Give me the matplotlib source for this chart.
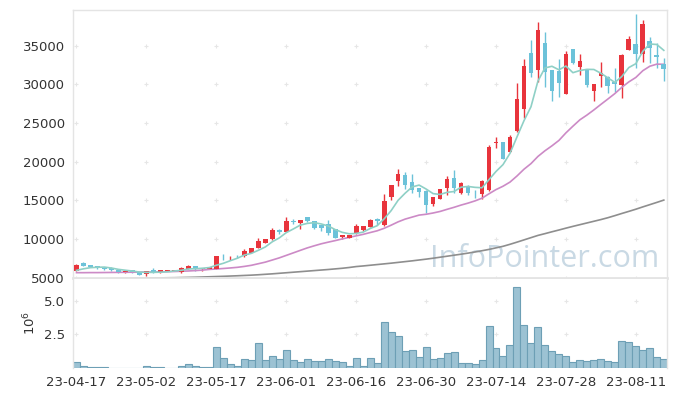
import matplotlib
matplotlib.use('Agg')
import matplotlib.pyplot as plt
import numpy as np
from matplotlib.ticker import FixedLocator, FuncFormatter

# ---- data ----
opens = [5900, 6940, 6640, 6510, 6290, 6290, 6030, 5780, 5990, 5780,
         5475, 6030, 5690, 5900, 5920, 5780, 6120, 6500, 6080, 6120,
         6160, 7850, 7760, 7850, 7760, 8230, 8880, 9530, 9960, 11160,
         10900, 12330, 12110, 12800, 12330, 11810, 11940, 11250, 10260, 10170,
         10820, 11160, 11600, 12540, 11810, 15470, 17540, 18270, 17330, 16600,
         16210, 14520, 15210, 16630, 17890, 15990, 16900, 16000, 15860, 16340,
         22400, 22540, 21300, 24000, 26800, 34050, 31850, 35300, 31850, 31720,
         28800, 34570, 32280, 31850, 29180, 31120, 30990, 30340, 29910, 34520,
         35210, 34000, 35600, 33790, 32580]
highs = [6750, 6980, 6680, 6550, 6330, 6330, 6060, 6030, 6030, 5800,
         5900, 6250, 5990, 5950, 5960, 6420, 6700, 6550, 6250, 6420,
         7850, 8060, 7810, 7950, 8660, 8900, 10090, 10000, 11380, 11340,
         12800, 12600, 12500, 12850, 12380, 11850, 12450, 11300, 10560, 10520,
         11940, 11720, 12630, 12700, 15820, 17050, 19010, 18670, 18400, 16650,
         16300, 15450, 16500, 18190, 18880, 17400, 17000, 16340, 17630, 22110,
         23190, 22600, 23450, 30130, 33270, 35730, 38020, 36810, 31900, 33230,
         34300, 34600, 34000, 31900, 30100, 32930, 31100, 32070, 33900, 36250,
         39090, 38400, 36160, 35300, 33360]
lows = [5850, 6500, 6330, 6150, 6030, 5860, 5650, 5650, 5650, 5350,
        5215, 5650, 5650, 5880, 5900, 5650, 6080, 5900, 5900, 6080,
        6120, 7290, 7350, 7600, 7700, 8150, 8800, 9440, 9900, 10700,
        10850, 11900, 11250, 12250, 11350, 11077, 10560, 10100, 9950, 10130,
        10650, 11100, 11510, 11810, 11700, 15040, 16850, 16420, 15900, 15470,
        13320, 14310, 15150, 15690, 15990, 15850, 15700, 15260, 15170, 16200,
        21720, 20340, 21200, 23900, 25600, 30990, 30340, 29700, 27890, 28400,
        28700, 32600, 31200, 29610, 27890, 29610, 28830, 29050, 28190, 34400,
        32070, 32930, 32710, 32070, 30470]
closes = [6640, 6550, 6380, 6210, 6080, 6030, 5690, 5820, 5690, 5390,
          5860, 5690, 5950, 5920, 5940, 6290, 6550, 6120, 6210, 6380,
          7800, 7800, 7800, 7800, 8450, 8880, 9780, 9960, 11160, 10950,
          12280, 12150, 12460, 12280, 11420, 11465, 10820, 10130, 10520, 10470,
          11680, 11680, 12460, 12330, 14910, 16980, 18400, 17020, 16380, 16120,
          14440, 15430, 16470, 17760, 16640, 17240, 15900, 15900, 17500, 21900,
          22500, 20340, 23190, 28100, 32410, 31500, 37020, 31640, 29180, 30130,
          33950, 32710, 33020, 29950, 30040, 31500, 29780, 30040, 33790, 35820,
          34000, 37800, 34740, 33490, 32020]
volumes = [450000, 120000, 50000, 50000, 50000, 0, 0, 0, 0, 0,
           120000, 50000, 50000, 0, 0, 120000, 270000, 120000, 50000, 50000,
           1530000, 720000, 270000, 120000, 640000, 570000, 1830000, 570000, 870000, 640000,
           1310000, 570000, 420000, 640000, 490000, 490000, 640000, 490000, 420000, 120000,
           720000, 120000, 720000, 350000, 3390000, 2650000, 2350000, 1240000, 1310000, 790000,
           1530000, 640000, 720000, 1090000, 1160000, 350000, 350000, 270000, 570000, 3090000,
           1460000, 870000, 1680000, 5980000, 3170000, 1830000, 3020000, 1680000, 1240000, 1010000,
           870000, 420000, 570000, 490000, 570000, 640000, 490000, 420000, 1980000, 1900000,
           1610000, 1310000, 1460000, 790000, 640000]
# moving-average values before a full window exists
ma5_lead = [5950, 6150, 6300, 6350]
ma20_lead = [5650, 5650, 5660, 5660, 5670, 5680, 5690, 5700, 5710, 5720,
             5730, 5740, 5760, 5780, 5800, 5830, 5870, 5920, 5980]
ma_long = [4800, 4815, 4830, 4845, 4860, 4875, 4890, 4905, 4920, 4935,
           4950, 4965, 4975, 4990, 5000, 5020, 5040, 5060, 5090, 5120,
           5150, 5180, 5215, 5250, 5290, 5330, 5380, 5440, 5500, 5570,
           5640, 5710, 5780, 5850, 5920, 5990, 6060, 6140, 6220, 6320,
           6440, 6520, 6610, 6700, 6790, 6880, 6980, 7080, 7180, 7290,
           7400, 7520, 7650, 7780, 7910, 8040, 8180, 8330, 8490, 8660,
           8860, 9060, 9320, 9600, 9890, 10180, 10470, 10700, 10940, 11170,
           11410, 11640, 11860, 12080, 12300, 12520, 12760, 13030, 13310, 13580,
           13860, 14160, 14450, 14740, 15040]
tick_labels = ["23-04-17", "23-05-02", "23-05-17", "23-06-01", "23-06-16",
               "23-06-30", "23-07-14", "23-07-28", "23-08-11"]
price_ticks = [5000, 10000, 15000, 20000, 25000, 30000, 35000]
volume_ticks = [2500000, 5000000]

# ---- derived ----
o = np.array(opens, float); h = np.array(highs, float)
l = np.array(lows, float); c = np.array(closes, float)
v = np.array(volumes, float)
n = len(c)
x = np.arange(n)
ma5 = np.array(ma5_lead + [c[i-4:i+1].mean() for i in range(4, n)])
ma20 = np.array(ma20_lead + [c[i-19:i+1].mean() for i in range(19, n)])
mal = np.array(ma_long, float)

UP = '#e8343c'
DOWN = '#6cc2d9'
GRIDC = '#e6e6e6'
SPINE = '#e4e4e4'

fig = plt.figure(figsize=(6.77, 3.96), dpi=100)
W, H = 677.0, 396.0
L_, R_ = 73.0, 667.3
ax = fig.add_axes([L_/W, (H-277.7)/H, (R_-L_)/W, (277.7-10)/H])
axv = fig.add_axes([L_/W, (H-367.7)/H, (R_-L_)/W, (367.7-278.5)/H], sharex=ax)

# watermark (display coords: y measured from the bottom)
ax.text(659, H - 267, 'InfoPointer.com', transform=None, fontsize=22,
        family=['Open Sans', 'DejaVu Sans'], color='#c9d9e4', ha='right',
        va='baseline', zorder=0)

# grid crosses
for axx, yt in ((ax, price_ticks), (axv, volume_ticks)):
    gx, gy = np.meshgrid(np.arange(0, n, 10), yt)
    axx.scatter(gx.ravel(), gy.ravel(), marker='+', s=12, color=GRIDC,
                linewidths=0.8, zorder=0.5)

# candles
up = c >= o
cols = np.where(up, UP, DOWN)
ax.vlines(x, l, h, colors=cols, linewidth=1.0, zorder=2)
body_lo = np.minimum(o, c)
body_h = np.maximum(np.abs(c - o), 60)
ax.bar(x, body_h, bottom=body_lo, width=0.68, color=cols, linewidth=0, zorder=3)

# moving averages
ax.plot(x, mal, color='#8e8e8e', linewidth=1.2, zorder=2.5)
ax.plot(x, ma20, color='#cc8ac6', linewidth=1.2, zorder=2.5)
ax.plot(x, ma5, color='#8fd0c6', linewidth=1.2, zorder=4)

ax.set_ylim(5000, 39630)
ax.set_xlim(-0.5, n - 0.5)
ax.yaxis.set_major_locator(FixedLocator(price_ticks))
ax.tick_params(axis='both', length=0, labelsize=9.5, colors='#333333', pad=6)
ax.tick_params(axis='x', labelbottom=False)

# volume
axv.bar(x, v, width=1.0, color='#9cc2d3', edgecolor='#6d9fb5', linewidth=0.8, zorder=2)
axv.set_ylim(0, 6650000)
axv.yaxis.set_major_locator(FixedLocator(volume_ticks))
axv.yaxis.set_major_formatter(FuncFormatter(lambda val, pos: f'{val/1e6:.1f}'))
axv.xaxis.set_major_locator(FixedLocator(list(range(0, n, 10))))
axv.set_xticklabels(tick_labels)
axv.tick_params(axis='both', length=0, labelsize=9.5, colors='#333333', pad=6)
axv.set_ylabel(r'$10^6$', fontsize=9.5, color='#333333', labelpad=4)

for a in (ax, axv):
    for s in a.spines.values():
        s.set_color(SPINE)
        s.set_linewidth(1.0)
ax.spines['bottom'].set_linewidth(2.0)
axv.spines['top'].set_visible(False)
axv.spines['bottom'].set_visible(False)

fig.savefig('out.png', dpi=100, facecolor='white')
